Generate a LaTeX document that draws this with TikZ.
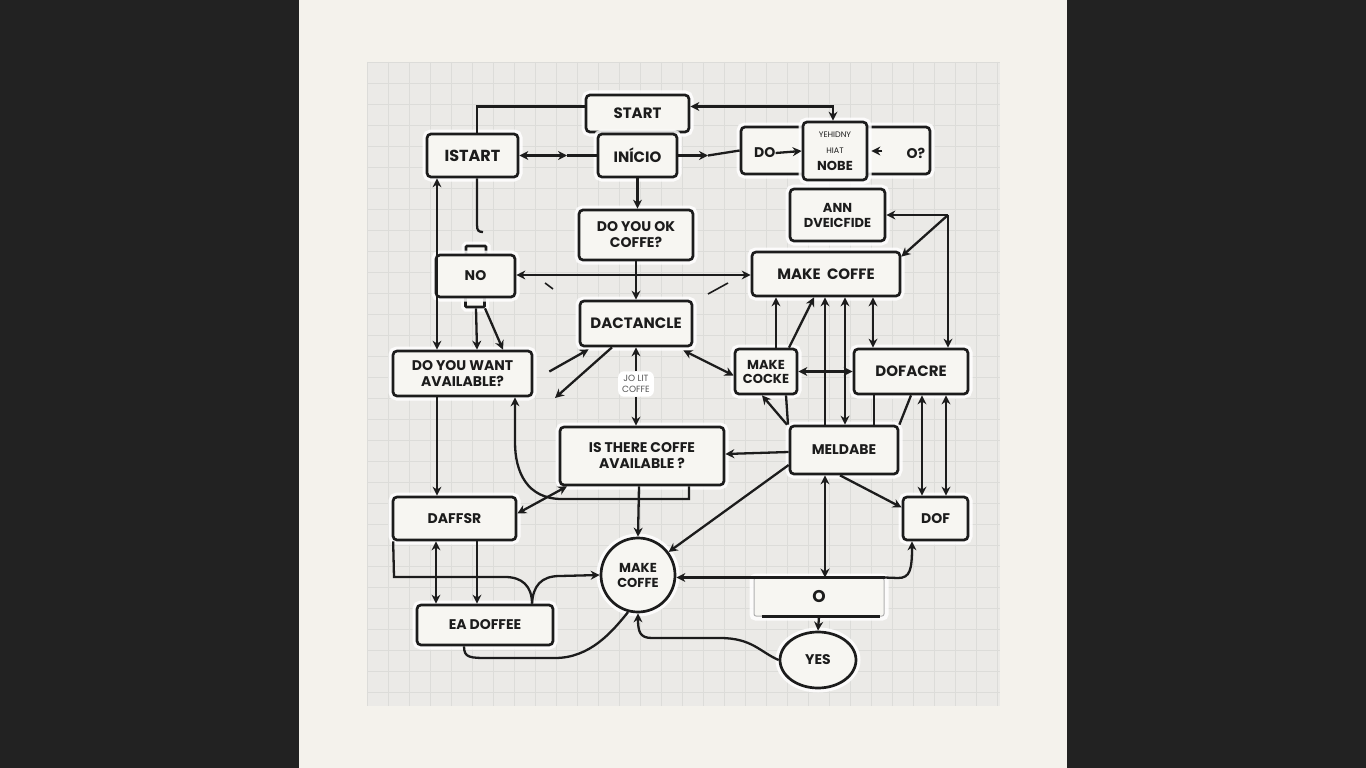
\documentclass[tikz,border=0pt]{standalone}
\usepackage{fontspec}
\setmainfont{Poppins}
\usetikzlibrary{arrows.meta,calc,shapes.geometric}
\definecolor{ink}{HTML}{1C1C1C}
\definecolor{darkbg}{HTML}{222222}
\definecolor{panel}{HTML}{F4F2EC}
\definecolor{gridbg}{HTML}{EBEAE7}
\definecolor{gridln}{HTML}{DCDCD9}
\definecolor{boxfill}{HTML}{F7F6F2}
\tikzset{
  box/.style={draw=ink, line width=2.7pt, fill=boxfill, rounded corners=4pt,
    align=center, inner sep=0pt, text=ink, font=\bfseries\fontsize{14}{16}\selectfont,
    preaction={draw=white, line width=9pt, draw opacity=0.85}},
  circbox/.style={box, circle, rounded corners=0pt},
  ellbox/.style={box, ellipse, rounded corners=0pt},
  conn/.style={draw=ink, line width=2.3pt},
  arr/.style={conn, -{Stealth[length=9pt,width=9pt]}},
  darr/.style={conn, {Stealth[length=9pt,width=9pt]}-{Stealth[length=9pt,width=9pt]}},
  rarr/.style={conn, {Stealth[length=9pt,width=9pt]}-},
}
\begin{document}
\begin{tikzpicture}[x=1pt,y=-1pt]
\useasboundingbox (0,0) rectangle (1366,768);
\fill[darkbg] (0,0) rectangle (1366,768);
\fill[panel] (299,0) rectangle (1067,768);
\fill[gridbg] (367,62) rectangle (1000,706);
\foreach \i in {0,...,30} {
  \draw[gridln, line width=0.4pt] ({367+\i*21},62) -- ({367+\i*21},706);
}
\foreach \i in {0,...,30} {
  \draw[gridln, line width=0.4pt] (367,{62+\i*21}) -- (1000,{62+\i*21});
}

% ---------- nodes ----------
\node[box, minimum width=103pt, minimum height=37pt, font=\bfseries\fontsize{15}{17}\selectfont] (start) at (637.5,113.5) {START};
\node[box, minimum width=79pt, minimum height=43pt, font=\bfseries\fontsize{15}{17}\selectfont] (inicio) at (637.5,155.5) {INÍCIO};
\node[box, minimum width=91pt, minimum height=43pt, font=\bfseries\fontsize{16}{18}\selectfont] (istart) at (472.5,155.5) {ISTART};
\node[box, minimum width=189pt, minimum height=47pt] (dobox) at (835.5,150.5) {};
\node[box, minimum width=64pt, minimum height=58pt, preaction={}] (nobe) at (835,151) {\fontsize{8}{9}\selectfont\mdseries YEHIDNY\\[0pt]\fontsize{8}{9}\selectfont\mdseries HIAT\\[1pt]\fontsize{13}{15}\selectfont NOBE};
\node[font=\bfseries\fontsize{14}{16}\selectfont, text=ink, anchor=west, inner sep=0pt] (dotext) at (754,153) {DO};
\node[font=\bfseries\fontsize{14}{16}\selectfont, text=ink, inner sep=0pt] (qtext) at (916,153) {O?};
\node[box, minimum width=95pt, minimum height=52pt, font=\bfseries\fontsize{13}{15}\selectfont] (ann) at (837.5,215) {ANN\\DVEICFIDE};
\node[box, minimum width=148pt, minimum height=44pt, font=\bfseries\fontsize{15}{17}\selectfont] (makecoffe) at (826,274) {MAKE\ \ COFFE};
\node[box, minimum width=114pt, minimum height=50pt] (dook) at (636,235) {DO YOU OK\\COFFE?};
\node[box, minimum width=20pt, minimum height=9pt, rounded corners=1pt, preaction={}] (notabt) at (476,250.5) {};
\node[box, minimum width=19pt, minimum height=10pt, rounded corners=1pt, preaction={}] (notabb) at (475,302) {};
\node[box, minimum width=79pt, minimum height=42pt] (no) at (475.5,276) {NO};
\node[box, minimum width=112pt, minimum height=45pt, font=\bfseries\fontsize{15}{17}\selectfont] (dact) at (636,323.5) {DACTANCLE};
\node[box, minimum width=139pt, minimum height=45pt] (dywant) at (462.5,373.5) {DO YOU WANT\\AVAILABLE?};
\node[fill=white, rounded corners=6pt, inner sep=4pt, align=center, text=ink!75, font=\fontsize{9}{11}\selectfont] (lbl) at (636,384) {JO LIT\\COFFE};
\node[box, minimum width=62pt, minimum height=45pt, font=\bfseries\fontsize{13}{14}\selectfont] (cocke) at (766,371.5) {MAKE\\COCKE};
\node[box, minimum width=114pt, minimum height=45pt, font=\bfseries\fontsize{15}{17}\selectfont] (dofacre) at (911,371.5) {DOFACRE};
\node[box, minimum width=164pt, minimum height=58pt] (isthere) at (642,456) {IS THERE COFFE\\AVAILABLE ?};
\node[box, minimum width=108pt, minimum height=48pt] (meldabe) at (844,450) {MELDABE};
\node[box, minimum width=123pt, minimum height=43pt] (daffsr) at (454.5,518.5) {DAFFSR};
\node[box, minimum width=65pt, minimum height=43pt] (dof) at (935.5,518.5) {DOF};
\node[circbox, minimum size=74pt, font=\bfseries\fontsize{13}{15}\selectfont] (circ) at (638,575) {MAKE\\COFFE};
\node[box, minimum width=136pt, minimum height=40pt] (eadoffee) at (485,625) {EA DOFFEE};
\node[box, draw=ink!35, line width=1pt, rounded corners=2pt, minimum width=130pt, minimum height=38pt, font=\bfseries\fontsize{17}{19}\selectfont] (obox) at (819,597) {O};
\node[ellbox, minimum width=76pt, minimum height=56pt] (yes) at (818,660) {YES};

% ---------- connectors ----------
\draw[conn] ([yshift=7pt]start.west) -| ([xshift=4.5pt]istart.north);
\draw[darr] ([yshift=7pt]start.east) -| ([xshift=-2pt]nobe.north);
\coordinate (m3) at (567,155.5);
\draw[darr] (istart.east) -- (m3);
\draw[conn] (m3) -- (inicio.west);
\coordinate (m4) at (708,155.5);
\draw[arr] (inicio.east) -- (m4);
\draw[conn] (m4) -- (dobox.west);
\draw[arr] (dotext.east) -- (nobe.west);
\draw[arr] ([xshift=14pt]nobe.east) -- ([xshift=3pt]nobe.east);
\draw[arr] (inicio.south) -- ([xshift=1.5pt]dook.north);
\coordinate (c6e) at (483,232);
\draw[conn] ([xshift=4.5pt]istart.south) -- (477,225) .. controls (477,231) and (479,232) .. (c6e);
\draw[darr] ([xshift=-35.5pt]istart.south) -- ([xshift=-25.5pt]dywant.north);
\draw[arr] ([xshift=1pt]notabb.south) -- ([xshift=14.5pt]dywant.north);
\draw[arr] ([xshift=10pt]notabb.south) -- ([xshift=40.5pt]dywant.north);
\draw[darr] ([yshift=1pt]no.east) -- ([yshift=-1pt]makecoffe.west);
\draw[arr] (dook.south) -- (dact.north);
\coordinate (s1a) at (545,283); \coordinate (s1b) at (553,289);
\draw[conn, line width=1.6pt] (s1a) -- (s1b);
\coordinate (s2a) at (708,294); \coordinate (s2b) at (728,283);
\draw[conn, line width=1.6pt] (s2a) -- (s2b);
\draw[arr] ([xshift=16pt,yshift=2pt]dywant.east) -- ([xshift=10pt,yshift=-2pt]dact.south west);
\coordinate (c13e) at (555,398);
\draw[arr] ([xshift=-24pt]dact.south) -- (c13e);
\draw[arr] (lbl.north) -- (dact.south);
\draw[arr] (lbl.south) -- ([xshift=-6pt]isthere.north);
\draw[darr] ([xshift=-10pt,yshift=-3pt]dact.south east) -- ([yshift=-4pt]cocke.west);
\draw[darr] (cocke.east) -- (dofacre.west);
\draw[arr] ([xshift=10pt]cocke.north) -- ([xshift=-50pt]makecoffe.south);
\draw[arr] ([xshift=23pt]cocke.north) -- ([xshift=-12pt]makecoffe.south);
\draw[arr] ([xshift=-19pt]meldabe.north) -- ([xshift=-1pt]makecoffe.south);
\draw[darr] ([xshift=19pt]makecoffe.south) -- ([xshift=1pt]meldabe.north);
\draw[darr] ([xshift=47pt]makecoffe.south) -- ([xshift=-38pt]dofacre.north);
\coordinate (j) at (948,215);
\draw[arr] (j) -- (ann.east);
\draw[arr] (j) -- ([xshift=37pt]dofacre.north);
\draw[arr] (j) -- ([yshift=-6pt]makecoffe.north east);
\draw[arr] ([xshift=-57pt]meldabe.north) -- ([xshift=-4pt]cocke.south);
\draw[conn] ([xshift=-56pt]meldabe.north) -- ([xshift=20pt]cocke.south);
\draw[conn] ([xshift=30pt]meldabe.north) -- ([xshift=-37pt]dofacre.south);
\draw[conn] (meldabe.north east) -- (dofacre.south);
\draw[darr] ([xshift=11pt]dofacre.south) -- ([xshift=-13.5pt]dof.north);
\draw[darr] ([xshift=35pt]dofacre.south) -- ([xshift=10.5pt]dof.north);
\draw[arr] ([yshift=-2pt]meldabe.west) -- ([yshift=2pt]isthere.east);
\draw[arr] ([yshift=-15pt]meldabe.west) -- (circ.37);
\draw[darr] ([xshift=-19pt]meldabe.south) -- ([xshift=6pt]obox.north);
\draw[arr] ([xshift=-4pt]meldabe.south) -- ([yshift=11pt]dof.west);
\draw[arr] (obox.north east) -- (obox.north east -| circ.east);
\draw[arr] (obox.north east) -- (898,578) .. controls (910,578) and (912,570) .. ([xshift=-23.5pt]dof.south);
\draw[conn] ([xshift=8pt]obox.south west) -- ([xshift=-5pt]obox.south east);
\draw[arr] (obox.south) -- (yes.north);
\draw[arr] (yes.west) .. controls (760,652) and (752,638) .. (720,638) -- (652,638) .. controls (640,638) and (638,632) .. (circ.south);
\draw[arr] ([xshift=-3pt]isthere.south) -- (circ.north);
\draw[darr] ([xshift=-75pt]isthere.south) -- ([yshift=5pt]daffsr.east);
\draw[arr] ([xshift=47pt]isthere.south) -- (689,499) -- (562,499) .. controls (527,499) and (515,472) .. (515,442) -- ([xshift=52.5pt]dywant.south);
\draw[arr] ([xshift=-25.5pt]dywant.south) -- ([xshift=-17.5pt]daffsr.north);
\draw[darr] ([xshift=-18.5pt]daffsr.south) -- ([xshift=-49pt]eadoffee.north);
\draw[arr] ([xshift=22.5pt]daffsr.south) -- ([xshift=-8pt]eadoffee.north);
\draw[conn] ([xshift=1.5pt]daffsr.south west) -- (394,577) -- (505,577) .. controls (522,577) and (532,586) .. ([xshift=47pt]eadoffee.north);
\draw[arr] ([xshift=47pt]eadoffee.north) .. controls (533,586) and (541,576) .. (560,576) -- (circ.west);
\draw[conn] ([xshift=-21pt]eadoffee.south) .. controls (464,658) and (470,658) .. (490,658) -- (555,658) .. controls (590,658) and (612,632) .. (circ.255);
\end{tikzpicture}
\end{document}
